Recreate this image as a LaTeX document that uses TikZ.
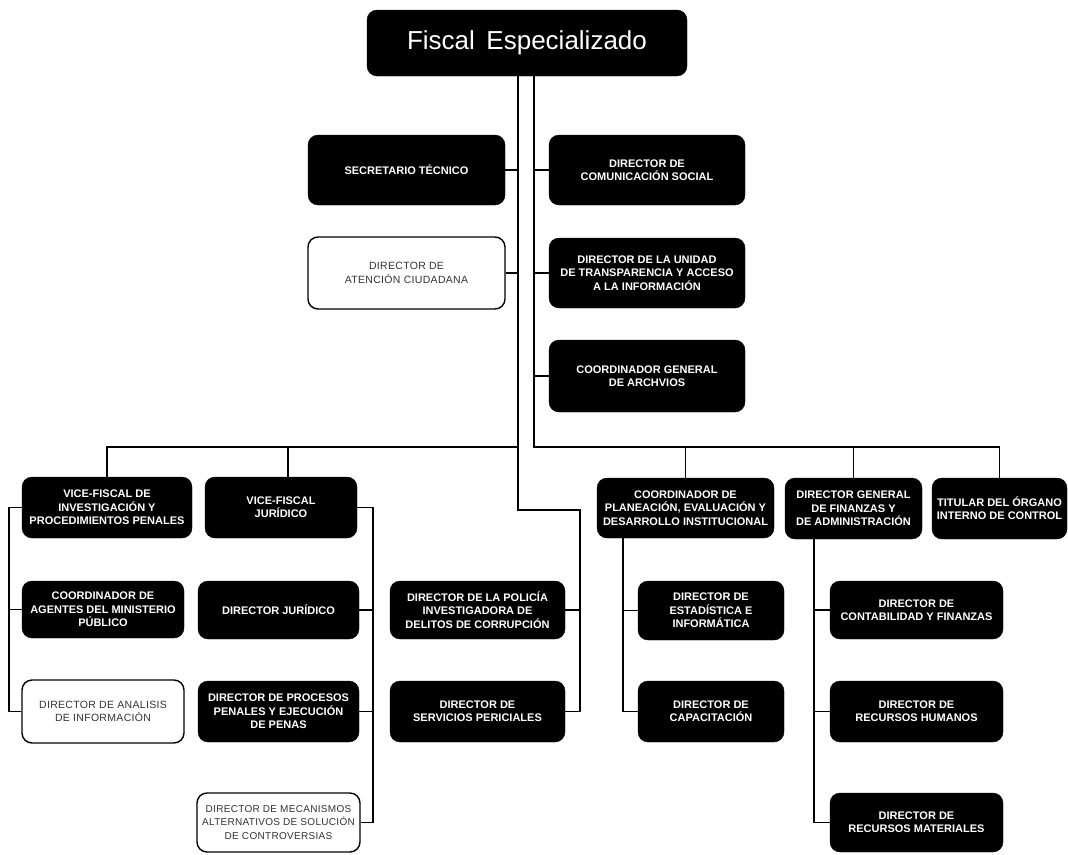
\documentclass[tikz,border=0pt]{standalone}
\usepackage{fontspec}
\setmainfont{Liberation Sans}
\newfontfamily\lightfont[LetterSpace=3]{Liberation Sans}
\usetikzlibrary{calc}
\tikzset{
  bx/.style={rounded corners=10pt, align=center, inner sep=2pt},
  dark/.style={bx, fill=black, draw=black, text=white, font=\bfseries\fontsize{11}{13.3}\selectfont},
  light/.style={bx, fill=white, draw=black, line width=1.4pt, text=black!80, font=\lightfont\fontsize{10.5}{13.3}\selectfont},
  conn/.style={draw=black, line width=1.8pt},
}
\begin{document}
\begin{tikzpicture}[x=1pt,y=-1pt]
\useasboundingbox (0,0) rectangle (1068,854);
\fill[white] (0,0) rectangle (1068,854);

% nodes
\node[dark, minimum width=320, minimum height=66, font=\fontsize{26}{30}\selectfont] (top) at (527,43) {Fiscal\, Especializado};
\node[dark, minimum width=197, minimum height=70] (sec) at (406.5,170) {SECRETARIO TÉCNICO};
\node[dark, minimum width=196, minimum height=70] (com) at (647,170) {DIRECTOR DE\\COMUNICACIÓN SOCIAL};
\node[light, minimum width=197, minimum height=72] (aten) at (406.5,273) {DIRECTOR DE\\ATENCIÓN CIUDADANA};
\node[dark, minimum width=196, minimum height=70] (trans) at (647,273) {DIRECTOR DE LA UNIDAD\\DE TRANSPARENCIA Y ACCESO\\A LA INFORMACIÓN};
\node[dark, minimum width=196, minimum height=72] (arch) at (647,376) {COORDINADOR GENERAL\\DE ARCHVIOS};

\node[dark, minimum width=170, minimum height=61] (vfi) at (107,507.5) {VICE-FISCAL DE\\INVESTIGACIÓN Y\\PROCEDIMIENTOS PENALES};
\node[dark, minimum width=152, minimum height=61] (vfj) at (281,507.5) {VICE-FISCAL\\JURÍDICO};
\node[dark, minimum width=162, minimum height=57] (coag) at (103,609.5) {COORDINADOR DE\\AGENTES DEL MINISTERIO\\PÚBLICO};
\node[light, minimum width=162, minimum height=63] (anal) at (103,711.5) {DIRECTOR DE ANALISIS\\DE INFORMACIÓN};
\node[dark, minimum width=161, minimum height=58] (djur) at (278.5,610) {DIRECTOR JURÍDICO};
\node[dark, minimum width=161, minimum height=61] (proc) at (278.5,711.5) {DIRECTOR DE PROCESOS\\PENALES Y EJECUCIÓN\\DE PENAS};
\node[light, minimum width=163, minimum height=59, font=\lightfont\fontsize{10}{13.3}\selectfont] (mec) at (278.5,822.5) {DIRECTOR DE MECANISMOS\\ALTERNATIVOS DE SOLUCIÓN\\DE CONTROVERSIAS};

\node[dark, minimum width=175, minimum height=58] (pol) at (477.5,610) {DIRECTOR DE LA POLICÍA\\INVESTIGADORA DE\\DELITOS DE CORRUPCIÓN};
\node[dark, minimum width=175, minimum height=61] (peri) at (477.5,711.5) {DIRECTOR DE\\SERVICIOS PERICIALES};

\node[dark, minimum width=177, minimum height=60] (plan) at (685.5,508) {COORDINADOR DE\\PLANEACIÓN, EVALUACIÓN Y\\DESARROLLO INSTITUCIONAL};
\node[dark, minimum width=146, minimum height=59] (est) at (711,610.5) {DIRECTOR DE\\ESTADÍSTICA E\\INFORMÁTICA};
\node[dark, minimum width=146, minimum height=61] (cap) at (711,711.5) {DIRECTOR DE\\CAPACITACIÓN};

\node[dark, minimum width=137, minimum height=61] (dgf) at (853.5,508.5) {DIRECTOR GENERAL\\DE FINANZAS Y\\DE ADMINISTRACIÓN};
\node[dark, minimum width=135, minimum height=61] (tit) at (999.5,508.5) {TITULAR DEL ÓRGANO\\INTERNO DE CONTROL};
\node[dark, minimum width=173, minimum height=58] (cont) at (916.5,610) {DIRECTOR DE\\CONTABILIDAD Y FINANZAS};
\node[dark, minimum width=173, minimum height=61] (rh) at (916.5,711.5) {DIRECTOR DE\\RECURSOS HUMANOS};
\node[dark, minimum width=173, minimum height=59] (rm) at (916.5,822.5) {DIRECTOR DE\\RECURSOS MATERIALES};

% trunk coordinates
\coordinate (lt) at (518,510);
\coordinate (lj) at (580,510);
\coordinate (rt) at (534,447);
\coordinate (lb) at (9,0);
\coordinate (jb) at (373,0);
\coordinate (pb) at (623,0);
\coordinate (fb) at (814,0);

% left trunk
\draw[conn] (top.south -| lt) -- (lt) -- (lj) -- (lj |- peri.east) -- (peri.east);
\draw[conn] (pol.east) -- (pol.east -| lj);
\draw[conn] (sec.east) -- (sec.east -| lt);
\draw[conn] (aten.east) -- (aten.east -| lt);
\draw[conn] (vfi.north) -- (vfi.north |- rt) -- (rt -| lt);
\draw[conn] ($(vfj.north)+(7,0)$) -- ($(vfj.north |- rt)+(7,0)$);

% right trunk
\draw[conn] (top.south -| rt) -- (rt) -- (tit.north |- rt) -- (tit.north);
\draw[conn] (com.west) -- (com.west -| rt);
\draw[conn] (trans.west) -- (trans.west -| rt);
\draw[conn] (arch.west) -- (arch.west -| rt);
\draw[conn] (plan.north) -- (plan.north |- rt);
\draw[conn] (dgf.north) -- (dgf.north |- rt);

% vice-fiscal investigacion children
\draw[conn] (vfi.west) -- (vfi.west -| lb) -- (lb |- anal.west) -- (anal.west);
\draw[conn] (coag.west -| lb) -- (coag.west);

% vice-fiscal juridico children
\draw[conn] (vfj.east) -- (vfj.east -| jb) -- (jb |- mec.east) -- (mec.east);
\draw[conn] (djur.east) -- (djur.east -| jb);
\draw[conn] (proc.east) -- (proc.east -| jb);

% planeacion children
\draw[conn] (plan.south -| pb) -- (pb |- cap.west) -- (cap.west);
\draw[conn] (est.west) -- (est.west -| pb);

% finanzas children
\draw[conn] (dgf.south -| fb) -- (fb |- rm.west) -- (rm.west);
\draw[conn] (cont.west) -- (cont.west -| fb);
\draw[conn] (rh.west) -- (rh.west -| fb);
\end{tikzpicture}
\end{document}
